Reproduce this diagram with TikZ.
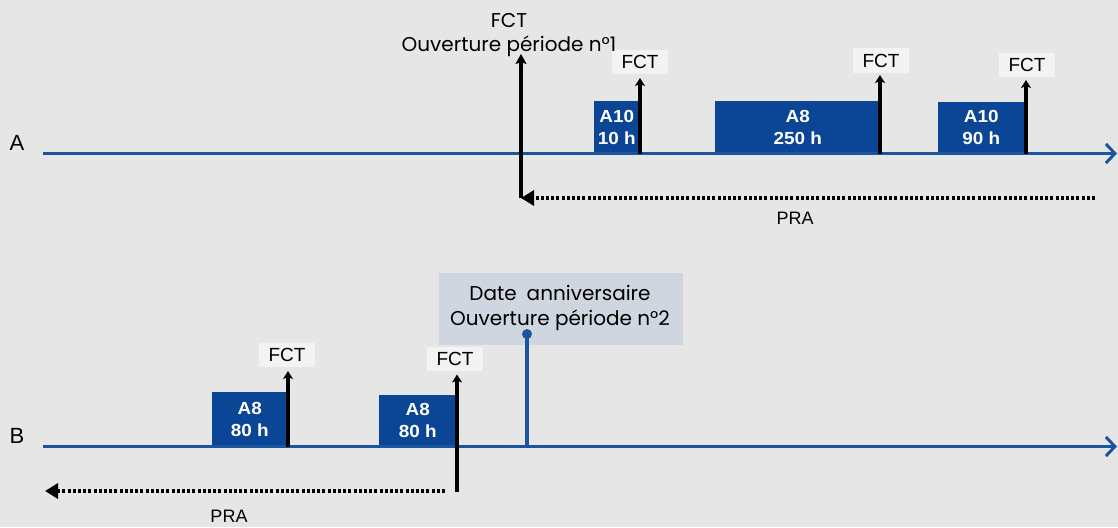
\documentclass[tikz,border=0pt]{standalone}
\usepackage{fontspec}
\setmainfont{Liberation Sans}
\newfontfamily\roundfont{Poppins}
\newfontfamily\boxfont[FakeStretch=1.08]{Liberation Sans}
\usetikzlibrary{arrows.meta}
\definecolor{bg}{HTML}{E6E6E6}
\definecolor{lineblue}{HTML}{1A55A0}
\definecolor{boxblue}{HTML}{0A4596}
\definecolor{lblbg}{HTML}{F3F3F3}
\definecolor{datebg}{HTML}{D0D6DF}
\tikzset{
  timeline/.style={draw=lineblue, line width=3.6pt, -{Straight Barb[length=9pt,width=19pt,line width=3pt]}},
  blk/.style={anchor=south west, fill=boxblue, text=white, font=\boxfont\bfseries\fontsize{17.5}{22}\selectfont, align=center, inner sep=0pt},
  fct/.style={fill=lblbg, font=\fontsize{19}{21}\selectfont, inner sep=0pt, minimum width=56pt, minimum height=24pt},
  fctarrow/.style={draw=black, line width=3.6pt, -{Stealth[length=8pt,width=10pt,inset=2pt]}},
  pra/.style={draw=black, line width=3.4pt, dash pattern=on 3pt off 2.2pt, -{Triangle[length=13pt,width=15pt]}},
  axlabel/.style={font=\fontsize{22}{24}\selectfont},
  pralabel/.style={font=\fontsize{18}{20}\selectfont},
  round/.style={font=\roundfont\fontsize{20}{24.5}\selectfont, align=center, inner sep=0pt}
}
\begin{document}
\begin{tikzpicture}[x=1pt,y=-1pt]
\fill[bg] (0,0) rectangle (1118,527);
\useasboundingbox (0,0) rectangle (1118,527);

% ---------- Timeline A ----------
\node[axlabel] (labA) at (17,143) {A};
\coordinate (A0) at (43,153.5);
\coordinate (A1) at (1117,153.5);

\node[blk, minimum width=45pt, minimum height=52pt] (a10a) at (594,153.5) {A10\\10 h};
\node[blk, minimum width=165pt, minimum height=52pt] (a8a) at (715,153.5) {A8\\250 h};
\node[blk, minimum width=86pt, minimum height=51pt] (a10b) at (938,153.5) {A10\\90 h};

\draw[timeline] (A0) -- (A1);

\node[fct] (fA1) at (640,62) {FCT};
\node[fct] (fA2) at (881,60.5) {FCT};
\node[fct] (fA3) at (1027,65) {FCT};
\coordinate (pA1) at (640,153.5);
\coordinate (pA2) at (880,153.5);
\coordinate (pA3) at (1026,153.5);
\draw[fctarrow] (pA1) -- (640,78);
\draw[fctarrow] (pA2) -- (880,75);
\draw[fctarrow] (pA3) -- (1026,80);

\node[round] (open1) at (509,35) {FCT\\Ouverture période n°1};
\coordinate (bigTop) at (521,54);
\coordinate (bigBot) at (521,198);
\draw[fctarrow, -{Stealth[length=10pt,width=11pt,inset=2pt]}] (bigBot) -- (bigTop);
\coordinate (praAstart) at (1095,198);
\draw[pra] (praAstart) -- (bigBot);
\node[pralabel] (praA) at (795,218) {PRA};

% ---------- Timeline B ----------
\node[axlabel] (labB) at (17,436) {B};
\coordinate (B0) at (43,446.5);
\coordinate (B1) at (1117,446.5);

\node[blk, minimum width=76pt, minimum height=54pt] (a8b1) at (211.5,446.5) {A8\\80 h};
\node[blk, minimum width=77pt, minimum height=51.5pt] (a8b2) at (379,446.5) {A8\\80 h};

\draw[timeline] (B0) -- (B1);

\node[fct] (fB1) at (287,355) {FCT};
\node[fct] (fB2) at (455,358.5) {FCT};
\coordinate (pB1) at (288,446.5);
\draw[fctarrow] (pB1) -- (288,371);
\coordinate (pB2) at (457,492);
\draw[fctarrow] (pB2) -- (457,374.5);
\coordinate (praBstart) at (445,491);
\coordinate (praBend) at (45,491);
\draw[pra] (praBstart) -- (praBend);
\node[pralabel] (praB) at (229,516) {PRA};

\node[fill=datebg, minimum width=244pt, minimum height=72pt, inner sep=0pt, anchor=north west] (datebox) at (439,273) {};
\node[round] (datetxt) at (560,308) {Date\enspace anniversaire\\Ouverture période n°2};
\coordinate (lolTop) at (527,334);
\coordinate (lolBot) at (527,446.5);
\draw[lineblue, line width=3.6pt] (lolBot) -- (lolTop);
\fill[lineblue] (lolTop) circle (5pt);
\end{tikzpicture}
\end{document}
